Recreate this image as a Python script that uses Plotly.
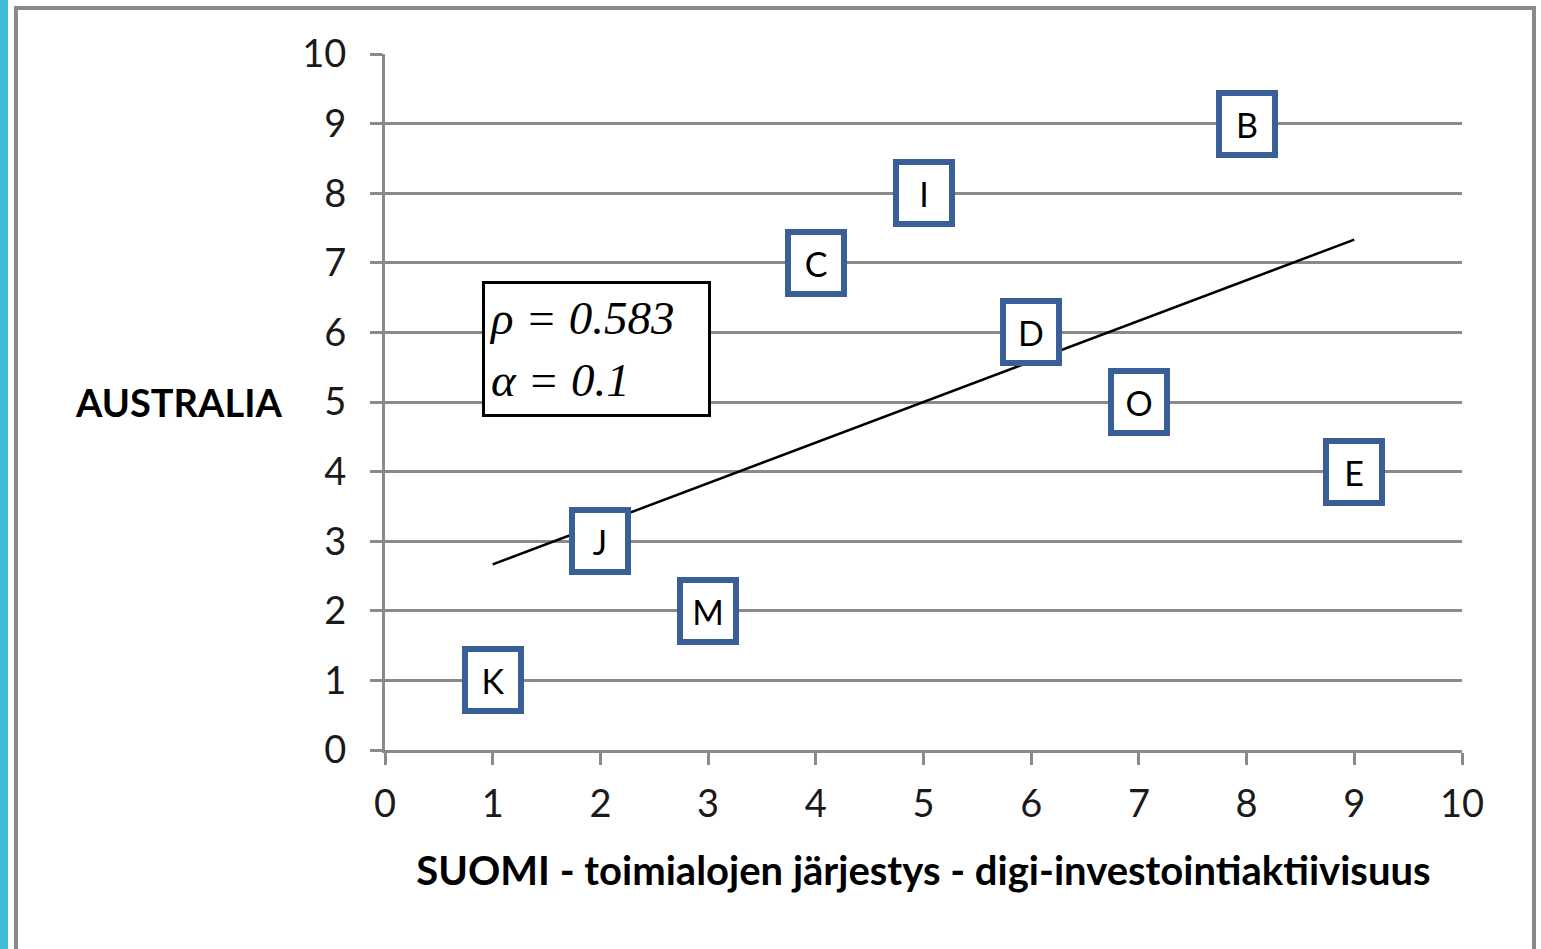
import numpy as np
import plotly.graph_objects as go

# Data
labels = ["K", "J", "M", "C", "I", "D", "O", "B", "E"]
suomi = [1, 2, 3, 4, 5, 6, 7, 8, 9]
australia = [1, 3, 2, 7, 8, 6, 5, 9, 4]
tick_vals = list(range(0, 11))
rho_text = "ρ = 0.583"
alpha_text = "α = 0.1"
x_title = "SUOMI - toimialojen järjestys - digi-investointiaktiivisuus"
y_title = "AUSTRALIA"

W, H = 1541, 949
L, R, T, B = 385, 79, 54, 199
PW, PH = W - L - R, H - T - B
FONT = "Lato, Open Sans, sans-serif"


def px_x(p):
    return (p - L) / PW


def px_y(p):
    return (H - B - p) / PH


# Linear trend from the data
slope, intercept = np.polyfit(suomi, australia, 1)
tx = [min(suomi), max(suomi)]
ty = [slope * v + intercept for v in tx]

fig = go.Figure()
fig.add_trace(go.Scatter(x=tx, y=ty, mode="lines",
                         line=dict(color="black", width=2.5),
                         showlegend=False, hoverinfo="skip"))
fig.add_trace(go.Scatter(x=suomi, y=australia, mode="markers",
                         marker=dict(size=1, opacity=0),
                         showlegend=False, hoverinfo="skip"))

annotations = []
for lab, xv, yv in zip(labels, suomi, australia):
    annotations.append(dict(
        x=xv, y=yv, xref="x", yref="y", text=lab, showarrow=False,
        font=dict(family=FONT, size=34, color="black"),
        bgcolor="white", bordercolor="#3A5E97", borderwidth=6, borderpad=0,
        width=50, height=56, align="center", valign="middle"))

annotations.append(dict(
    x=1.964, y=5.76, xref="x", yref="y", showarrow=False,
    text=f"<i>{rho_text}</i><br><i>{alpha_text}</i>",
    font=dict(family="Liberation Serif, Times New Roman, serif", size=47, color="black"),
    align="left", valign="middle", bgcolor="white",
    bordercolor="black", borderwidth=3, borderpad=4, width=215, height=122))

annotations.append(dict(
    x=px_x(178), y=5, xref="paper", yref="y", text=f"<b>{y_title}</b>",
    showarrow=False, xanchor="center",
    font=dict(family=FONT, size=38, color="black")))

shapes = [
    dict(type="rect", xref="paper", yref="paper",
         x0=px_x(0), x1=px_x(8), y0=px_y(H + 10), y1=px_y(-10),
         fillcolor="#41BBD6", line=dict(width=0), layer="below"),
    dict(type="rect", xref="paper", yref="paper",
         x0=px_x(16), x1=px_x(1534), y0=px_y(H + 20), y1=px_y(8),
         fillcolor="rgba(0,0,0,0)", line=dict(color="#8A8A8A", width=4), layer="below"),
]

fig.update_layout(
    width=W, height=H,
    margin=dict(l=L, r=R, t=T, b=B, autoexpand=False),
    paper_bgcolor="white", plot_bgcolor="white",
    annotations=annotations, shapes=shapes,
    xaxis=dict(range=[0, 10], tickvals=tick_vals, showgrid=False,
               showline=True, linecolor="#8A8A8A", linewidth=3,
               ticks="outside", ticklen=12, tickwidth=3, tickcolor="#8A8A8A",
               ticklabelstandoff=6, zeroline=False,
               tickfont=dict(family=FONT, size=38, color="#1a1a1a"),
               title=dict(text=f"<b>{x_title}</b>", standoff=34,
                          font=dict(family=FONT, size=40, color="black"))),
    yaxis=dict(range=[0, 10], tickvals=tick_vals, showgrid=True,
               gridcolor="#8A8A8A", gridwidth=3,
               showline=True, linecolor="#8A8A8A", linewidth=3,
               ticks="outside", ticklen=12, tickwidth=3, tickcolor="#8A8A8A",
               ticklabelstandoff=16, zeroline=False,
               tickfont=dict(family=FONT, size=38, color="#1a1a1a")),
)

fig.write_html("out.html",
               config={"displayModeBar": False},
               post_script="document.body.style.margin='0';document.body.style.overflow='hidden';")
